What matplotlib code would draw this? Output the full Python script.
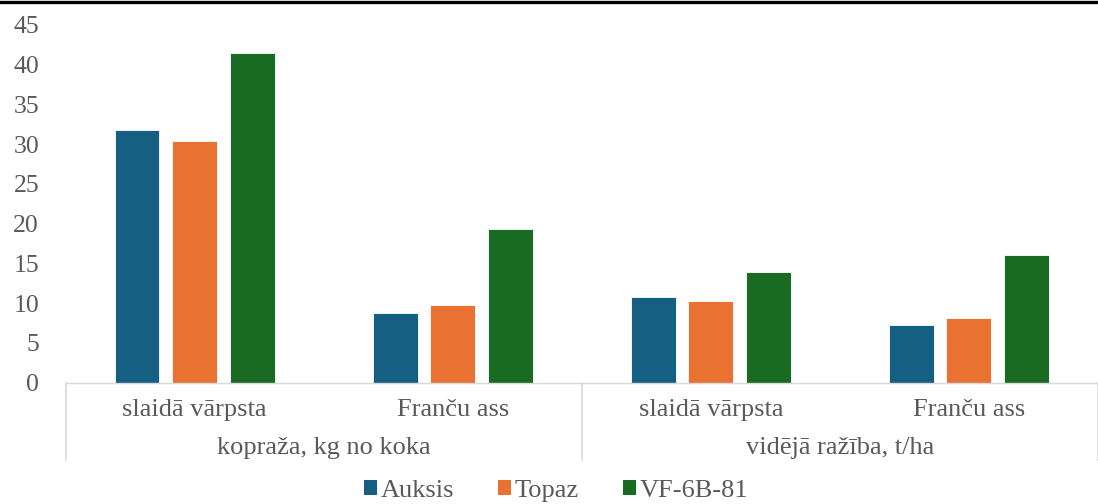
import matplotlib
matplotlib.use("Agg")
import matplotlib.pyplot as plt
from matplotlib.lines import Line2D
from matplotlib.patches import Patch
import numpy as np

plt.rcParams['font.family'] = ['Liberation Serif', 'DejaVu Serif']

groups = ["kopraža, kg no koka", "vidējā ražība, t/ha"]
subcats = ["slaidā vārpsta", "Franču ass", "slaidā vārpsta", "Franču ass"]
series_names = ["Auksis", "Topaz", "VF-6B-81"]
auksis = [31.8, 8.7, 10.7, 7.3]
topaz = [30.4, 9.7, 10.2, 8.1]
vf = [41.5, 19.3, 13.9, 16.0]
colors = ["#156082", "#E97132", "#196B24"]
yticks = [0, 5, 10, 15, 20, 25, 30, 35, 40, 45]

text_color = "#595959"
grid_color = "#D9D9D9"

fig = plt.figure(figsize=(10.98, 5.04), dpi=100)
ax = fig.add_axes([65.5 / 1098, 1 - 382.5 / 504, (1098 - 65.5) / 1098, 357.5 / 504])

x = np.arange(len(subcats))
pitch = 0.223
width = 0.174
for i, (vals, name) in enumerate(zip([auksis, topaz, vf], series_names)):
    ax.bar(x + (i - 1) * pitch, vals, width, color=colors[i], label=name,
           edgecolor="white", linewidth=0.6)

ax.set_xlim(-0.5, len(subcats) - 0.5)
ax.set_ylim(0, 45)
ax.set_yticks(yticks)
ax.set_yticklabels([str(t) for t in yticks], fontsize=18.5, color=text_color)
ax.tick_params(axis='y', length=0, pad=19)
ax.tick_params(axis='x', length=0, labelbottom=False)
for s in ["top", "right", "left"]:
    ax.spines[s].set_visible(False)
ax.spines["bottom"].set_color(grid_color)
ax.spines["bottom"].set_linewidth(1.0)

# category labels
trans = ax.get_xaxis_transform()
px = 1 / 357.5
for xi, lab in zip(x, subcats):
    ax.text(xi, -(410 - 382.5) * px, lab, transform=trans, ha="center", va="center",
            fontsize=19, color=text_color)
for gi, g in enumerate(groups):
    ax.text(gi * 2 + 0.5, -(448 - 382.5) * px, g, transform=trans, ha="center", va="center",
            fontsize=19, color=text_color)

# separators of the multi-level axis
for sx in [-0.5, 1.5, 3.5]:
    ax.add_artist(Line2D([sx, sx], [0, -(460 - 382.5) * px], transform=trans,
                         color=grid_color, linewidth=1.2, clip_on=False))

handles = [Patch(facecolor=c, edgecolor="none") for c in colors]
leg = fig.legend(handles, series_names, loc="center", bbox_to_anchor=(556 / 1098, 1 - 491 / 504),
                 ncol=3, frameon=False, fontsize=19, handlelength=0.5, handleheight=0.5,
                 handletextpad=0.15, columnspacing=1.65, borderpad=0)
for t in leg.get_texts():
    t.set_color(text_color)

# top border line from the source document
fig.add_artist(Line2D([0, 1], [1 - 1.5 / 504, 1 - 1.5 / 504], transform=fig.transFigure,
                      color="black", linewidth=2.4))

fig.savefig("out.png", dpi=100)
